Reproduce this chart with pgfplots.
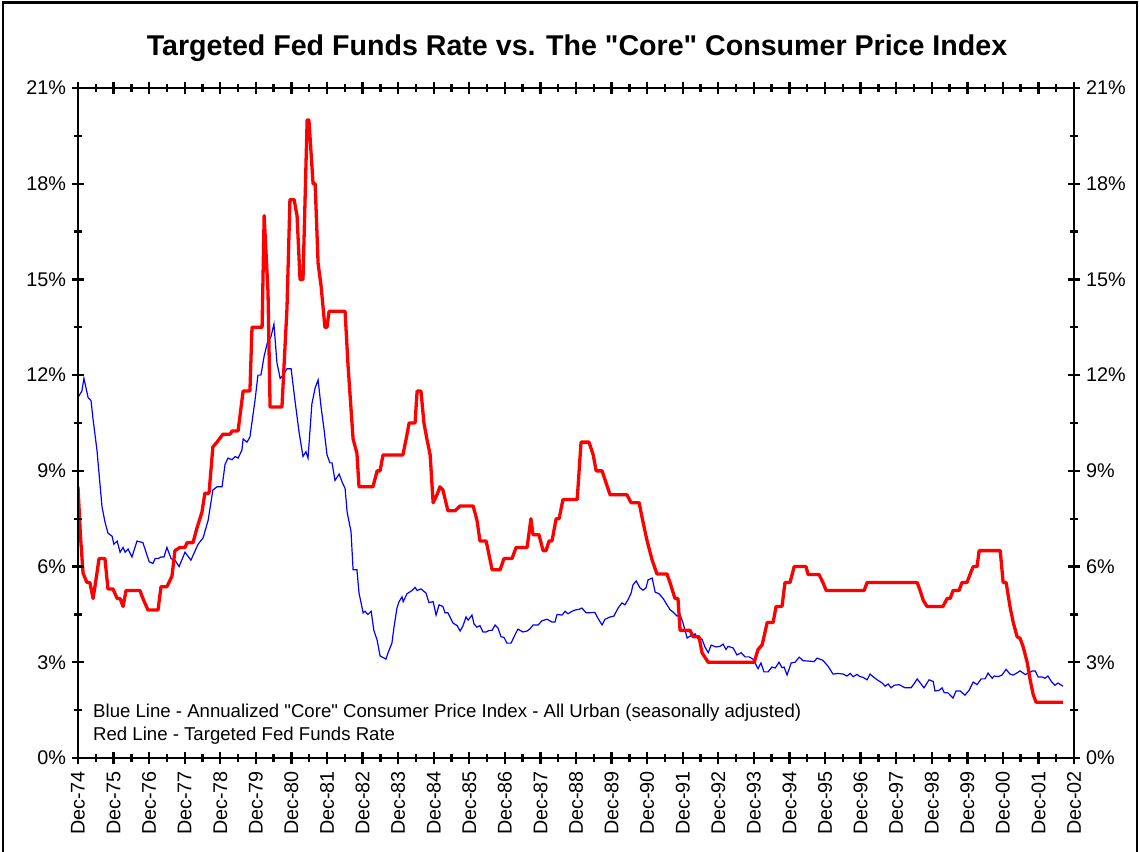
\documentclass[border=0pt]{standalone}
\usepackage{pgfplots}
\pgfplotsset{compat=1.18}
\usepackage{fontspec}
\setmainfont{Liberation Sans}[Ligatures=TeXOff]
\begin{document}
\begin{tikzpicture}[x=1pt,y=1pt]
\useasboundingbox (-39,-46.5) rectangle (531,379);
\draw[line width=1.3pt] (-37.5,-60) -- (-37.5,377.8) -- (529.5,377.8) -- (529.5,-60);
\pgfplotsset{
  base/.style={
    at={(0,0)}, anchor=south west, scale only axis, width=498pt, height=335pt,
    xmin=0, xmax=336, ymin=0, ymax=21,
    axis line style={line width=1.2pt},
    every tick/.style={line width=1.2pt, black},
    major tick length=6pt, minor tick length=4pt, tick align=center,
    xtick={0,12,...,336}, minor xtick={6,18,...,330},
    ytick={0,3,...,21}, minor ytick={1.5,4.5,...,19.5},
    /pgf/number format/assume math mode=true,
    yticklabel={\pgfmathprintnumber{\tick}\%},
    ticklabel style={font=\fontsize{9.9}{11}\selectfont},
  }
}
\begin{axis}[base,
  xtick pos=both, ytick pos=both,
  xticklabels={Dec-74,Dec-75,Dec-76,Dec-77,Dec-78,Dec-79,Dec-80,Dec-81,Dec-82,Dec-83,Dec-84,Dec-85,Dec-86,Dec-87,Dec-88,Dec-89,Dec-90,Dec-91,Dec-92,Dec-93,Dec-94,Dec-95,Dec-96,Dec-97,Dec-98,Dec-99,Dec-00,Dec-01,Dec-02},
  xticklabel style={rotate=90, anchor=east},
  yticklabel style={xshift=0.5pt},
]
\addplot[blue, line width=0.6pt] coordinates {
(0,11.3)(1.3,11.5)(2.0,11.9)(3.4,11.3)(4.4,11.2)(5.1,10.6)(6.4,9.65)(7.4,8.6)(8.1,7.87)(9.1,7.4)(10.1,7.05)(11.5,6.95)(12.1,6.7)(13.2,6.8)(14.2,6.45)(15.2,6.6)(15.9,6.45)(16.9,6.55)(18.2,6.3)(19.9,6.8)(21.9,6.75)(24.0,6.15)(25.3,6.1)(26.0,6.25)(27.0,6.25)(28.0,6.3)(29.0,6.3)(30.0,6.6)(31.4,6.25)(32.7,6.2)(34.1,6.0)(36.1,6.45)(38.1,6.2)(40.5,6.7)(42.2,6.9)(43.9,7.45)(45.5,8.4)(46.9,8.5)(48.6,8.5)(49.6,9.2)(50.6,9.4)(52.0,9.35)(53.0,9.45)(54.0,9.4)(55.3,9.65)(55.7,10.0)(57.0,9.9)(58.0,10.06)(59.7,11.2)(60.7,12.0)(61.7,12.0)(62.8,12.6)(64.1,13.1)(65.1,13.2)(66.1,13.6)(67.1,12.4)(68.2,11.9)(69.2,12.0)(70.5,12.2)(71.9,12.2)(73.2,11.2)(74.6,10.2)(75.9,9.45)(76.9,9.6)(77.6,9.4)(78.9,11.1)(80.0,11.6)(81.0,11.85)(82.0,11.0)(83.0,10.3)(84.0,9.5)(85.0,9.25)(85.7,9.25)(86.7,8.7)(88.1,8.9)(89.1,8.65)(90.1,8.45)(90.8,7.7)(92.1,7.1)(92.8,5.9)(94.1,5.9)(94.8,5.17)(96.2,4.55)(96.8,4.6)(97.8,4.5)(98.9,4.6)(99.8,4.0)(100.9,3.7)(101.9,3.2)(102.9,3.15)(103.9,3.1)(104.6,3.3)(105.9,3.6)(106.6,4.1)(107.6,4.7)(108.3,4.9)(109.3,5.05)(109.7,4.9)(111.0,5.15)(112.7,5.25)(113.7,5.35)(114.4,5.25)(115.7,5.3)(117.4,5.17)(118.4,4.87)(119.8,4.9)(120.8,4.48)(121.8,4.8)(123.1,4.75)(123.8,4.55)(124.8,4.55)(126.5,4.23)(127.9,4.15)(128.9,3.98)(129.9,4.15)(130.9,4.42)(131.6,4.32)(132.9,4.48)(133.6,4.2)(134.6,4.1)(135.6,4.15)(136.6,3.95)(137.7,3.95)(138.7,4.0)(139.7,4.0)(140.7,4.17)(141.7,4.07)(142.7,3.8)(143.7,3.78)(144.7,3.6)(146.1,3.6)(147.1,3.8)(148.4,4.04)(150.1,3.95)(151.5,3.98)(152.5,4.05)(153.5,4.17)(155.2,4.17)(156.5,4.3)(158.2,4.35)(159.2,4.3)(159.9,4.26)(160.9,4.26)(161.6,4.5)(163.3,4.48)(164.3,4.6)(165.3,4.52)(166.7,4.6)(167.7,4.64)(169.0,4.66)(170.0,4.7)(171.4,4.55)(174.4,4.56)(175.4,4.38)(176.8,4.17)(177.8,4.35)(179.5,4.42)(180.8,4.45)(182.2,4.7)(183.5,4.86)(184.5,4.8)(185.6,4.97)(186.6,5.17)(187.2,5.42)(188.3,5.55)(189.6,5.33)(190.6,5.26)(191.6,5.33)(192.3,5.58)(193.7,5.64)(194.7,5.2)(196.0,5.15)(197.4,5.0)(198.7,4.8)(199.7,4.65)(200.7,4.58)(202.1,4.45)(203.1,4.5)(204.1,4.23)(205.5,3.76)(206.5,3.82)(208.2,3.89)(209.2,3.73)(210.5,3.73)(211.5,3.48)(212.6,3.3)(213.6,3.54)(215.2,3.48)(216.6,3.5)(217.6,3.57)(218.6,3.4)(219.3,3.5)(221.0,3.45)(222.3,3.23)(223.7,3.3)(225.0,3.17)(226.4,3.17)(227.7,3.1)(228.4,2.98)(229.4,2.8)(230.4,2.98)(231.4,2.7)(232.8,2.7)(234.1,2.85)(235.2,2.82)(236.5,3.0)(237.5,2.83)(238.2,2.85)(239.2,2.6)(240.6,2.98)(241.9,3.0)(243.3,3.16)(244.6,3.05)(246.3,3.04)(248.3,3.02)(249.3,3.13)(251.3,3.06)(253.0,2.88)(254.7,2.63)(256.4,2.65)(258.1,2.63)(259.4,2.57)(260.5,2.65)(261.5,2.55)(262.8,2.62)(263.8,2.55)(264.8,2.53)(266.2,2.45)(267.2,2.63)(268.2,2.55)(269.6,2.45)(271.3,2.35)(272.3,2.25)(273.3,2.32)(274.3,2.2)(275.3,2.28)(277.0,2.3)(279.0,2.2)(281.0,2.2)(282.0,2.32)(283.1,2.48)(284.4,2.32)(285.4,2.2)(287.1,2.45)(288.5,2.4)(289.1,2.1)(290.5,2.12)(291.5,2.2)(292.2,2.05)(293.5,2.04)(295.2,1.88)(296.2,2.1)(297.6,2.1)(299.2,1.97)(300.6,2.12)(302.0,2.38)(303.3,2.3)(304.7,2.48)(306.0,2.48)(307.0,2.66)(308.4,2.5)(309.1,2.57)(310.4,2.55)(311.7,2.6)(313.1,2.78)(314.4,2.63)(315.5,2.6)(316.8,2.67)(317.8,2.73)(319.5,2.62)(320.5,2.65)(321.9,2.73)(322.9,2.73)(323.9,2.54)(325.2,2.54)(326.2,2.5)(327.2,2.57)(328.5,2.38)(329.6,2.28)(330.6,2.35)(332.3,2.25)
};
\addplot[red, line width=1.65pt, line join=round] coordinates {
(0,8.5)(0.8,7.0)(1.7,5.8)(3,5.5)(4,5.5)(5.1,5.0)(6.4,5.8)(7.1,6.25)(9.1,6.25)(10.1,5.3)(11.8,5.3)(13.2,5.0)(14.2,5.0)(15.2,4.75)(16.2,5.25)(20.9,5.25)(21.9,5.0)(23.6,4.64)(27.0,4.64)(28.0,5.37)(30.0,5.37)(31.7,5.7)(32.7,6.5)(34.4,6.6)(36.1,6.6)(36.8,6.75)(38.8,6.75)(40.1,7.2)(41.8,7.7)(42.8,8.3)(44.2,8.3)(45.5,9.75)(46.9,9.9)(48.9,10.15)(51.3,10.15)(52.0,10.25)(54.0,10.25)(55.7,11.5)(58.0,11.5)(58.7,13.5)(62.1,13.5)(62.8,17.0)(64.1,14.6)(64.8,11.0)(68.8,11.0)(70.5,14.1)(71.5,17.5)(72.9,17.5)(73.9,17.0)(74.9,15.0)(75.9,15.0)(77.3,20.0)(77.9,20.0)(79.3,18.0)(80.0,18.0)(81.0,15.5)(82.0,14.8)(83.3,13.5)(84.0,13.5)(84.7,14.0)(90.1,14.0)(91.1,12.3)(92.8,10.0)(94.1,9.55)(94.8,8.5)(99.5,8.5)(100.9,9.0)(101.9,9.0)(102.9,9.5)(109.6,9.5)(110.7,10.0)(111.7,10.5)(113.7,10.5)(114.4,11.5)(115.7,11.5)(116.7,10.5)(117.7,10.0)(118.8,9.5)(119.8,8.0)(121.1,8.25)(122.1,8.5)(123.1,8.4)(124.8,7.75)(127.2,7.75)(128.9,7.9)(133.3,7.9)(134.6,7.45)(135.6,6.8)(137.7,6.8)(139.7,5.9)(142.4,5.9)(143.7,6.25)(146.4,6.25)(147.8,6.6)(151.5,6.6)(152.8,7.5)(153.5,7.0)(155.5,7.0)(156.9,6.5)(157.9,6.5)(158.9,6.8)(159.9,6.8)(161.3,7.5)(162.3,7.5)(163.6,8.1)(168.4,8.1)(169.7,9.9)(172.4,9.9)(173.8,9.5)(174.8,9.0)(176.8,9.0)(177.5,8.8)(179.5,8.25)(185.2,8.25)(186.6,8.0)(189.3,8.0)(190.6,7.4)(192.0,6.8)(193.7,6.2)(195.3,5.77)(198.7,5.77)(199.7,5.5)(201.4,5.0)(202.4,5.0)(203.1,4.0)(206.5,4.0)(207.5,3.8)(209.5,3.8)(210.5,3.3)(212.6,3.0)(228.1,3.0)(229.4,3.4)(230.8,3.55)(232.5,4.25)(234.5,4.25)(235.5,4.75)(237.5,4.75)(238.5,5.5)(240.2,5.5)(241.6,6.0)(245.6,6.0)(246.3,5.75)(250.0,5.75)(251.3,5.5)(252.4,5.25)(265.2,5.25)(266.2,5.5)(283.1,5.5)(284.1,5.25)(285.1,4.95)(286.4,4.75)(291.8,4.75)(293.2,5.0)(294.2,5.0)(295.2,5.25)(297.2,5.25)(298.2,5.5)(299.9,5.5)(300.9,5.75)(302.0,6.0)(303.3,6.0)(304.0,6.5)(311.1,6.5)(312.1,5.5)(313.1,5.5)(314.4,4.75)(315.5,4.25)(316.8,3.8)(317.8,3.75)(318.8,3.5)(320.2,3.0)(321.2,2.45)(322.2,2.0)(323.2,1.75)(332.3,1.75)
};
\node[anchor=west, font=\fontsize{9.3}{11}\selectfont, inner sep=0pt] at (axis cs:5,1.41) {Blue Line - Annualized "Core" Consumer Price Index - All Urban (seasonally adjusted)};
\node[anchor=west, font=\fontsize{9.3}{11}\selectfont, inner sep=0pt] at (axis cs:5,0.69) {Red Line - Targeted Fed Funds Rate};
\end{axis}
\begin{axis}[base, xtick pos=both, xticklabels={}, ytick pos=both, yticklabel pos=right, yticklabel style={xshift=-0.5pt}]
\end{axis}
\node[font=\bfseries\fontsize{14.3}{16}\selectfont] at (249.5,355) {Targeted Fed Funds Rate vs. The "Core" Consumer Price Index};
\end{tikzpicture}
\end{document}
